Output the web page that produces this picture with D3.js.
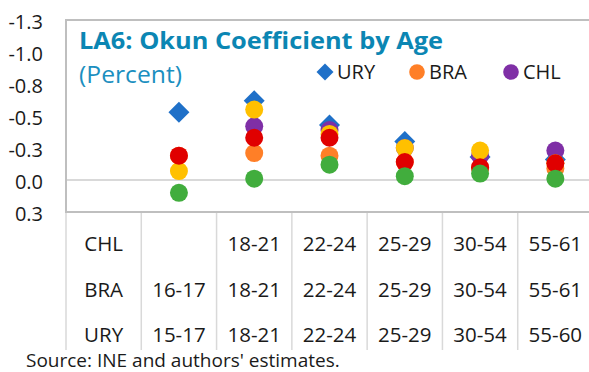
<!DOCTYPE html>
<html>
<head>
<meta charset="utf-8">
<script src="https://cdn.jsdelivr.net/npm/d3@7/dist/d3.min.js"></script>
<style>
  html, body { margin: 0; padding: 0; background: #fff; }
  svg { display: block; font-family: "Open Sans", "Noto Sans", sans-serif; }
</style>
</head>
<body>
<svg id="chart" width="589" height="372"></svg>
<script>
// Age groups per country (multi-level category axis)
const rowNames = ["CHL", "BRA", "URY"];
const chlAges = ["", "18-21", "22-24", "25-29", "30-54", "55-61"];
const braAges = ["16-17", "18-21", "22-24", "25-29", "30-54", "55-61"];
const uryAges = ["15-17", "18-21", "22-24", "25-29", "30-54", "55-60"];

// Okun coefficients (percent), one entry per age group
const uryValues = [-0.53, -0.62, -0.43, -0.30, -0.18, -0.16];
const braValues = [-0.19, -0.21, -0.19, -0.14, -0.09, -0.09];
const chlValues = [null, -0.42, -0.39, -0.25, -0.19, -0.23];
const s4Values  = [-0.07, -0.55, -0.36, -0.25, -0.23, -0.13];
const s5Values  = [-0.19, -0.33, -0.33, -0.14, -0.10, -0.13];
const s6Values  = [0.10, -0.01, -0.12, -0.03, -0.05, -0.01];

const yTicks = [-1.25, -1.0, -0.75, -0.5, -0.25, 0, 0.25];

const series = [
  { name: "URY", values: uryValues, color: "#1f70c8", shape: "diamond", legend: true },
  { name: "BRA", values: braValues, color: "#ff7f27", shape: "circle", legend: true },
  { name: "CHL", values: chlValues, color: "#7f2fa6", shape: "circle", legend: true },
  { name: "S4",  values: s4Values,  color: "#ffc000", shape: "circle", legend: false },
  { name: "S5",  values: s5Values,  color: "#e00000", shape: "circle", legend: false },
  { name: "S6",  values: s6Values,  color: "#41ad3d", shape: "circle", legend: false }
];

const svg = d3.select("#chart");
const plot = { left: 66, right: 593, top: 20, bottom: 212 };

// first band holds the row labels of the category table
const xKeys = ["rows"].concat(uryAges);
const x = d3.scaleBand().domain(xKeys).range([plot.left, plot.right]);
const y = d3.scaleLinear().domain([0.25, -1.25]).range([plot.bottom, plot.top]);

// zero line
svg.append("line")
  .attr("x1", plot.left).attr("x2", plot.right)
  .attr("y1", y(0)).attr("y2", y(0))
  .attr("stroke", "#d9d9d9").attr("stroke-width", 2);

// y axis labels
const yAxis = d3.axisLeft(y).tickValues(yTicks)
  .tickFormat(d => d.toFixed(1)).tickSize(0).tickPadding(0);
const yg = svg.append("g").attr("transform", `translate(${43},0)`).call(yAxis);
yg.select(".domain").remove();
yg.selectAll("text")
  .attr("font-family", "Open Sans, Noto Sans, sans-serif")
  .attr("font-size", 20).attr("fill", "#1a1a1a").attr("dy", "0.4em");

// category table: vertical separators
const bounds = xKeys.map(k => x(k)).concat([plot.right]);
svg.append("g").selectAll("line").data(bounds).join("line")
  .attr("x1", d => d).attr("x2", d => d)
  .attr("y1", plot.bottom).attr("y2", 350)
  .attr("stroke", "#d9d9d9").attr("stroke-width", 1.5);

const rowY = [244, 290, 335];
const rowLabels = [chlAges, braAges, uryAges];
rowNames.forEach((name, i) => {
  const cells = [name].concat(rowLabels[i]);
  svg.append("g").selectAll("text").data(cells).join("text")
    .attr("x", (d, j) => x(xKeys[j]) + x.bandwidth() / 2)
    .attr("y", rowY[i])
    .attr("dy", "0.36em")
    .attr("text-anchor", "middle")
    .attr("font-size", 20.5).attr("fill", "#1a1a1a")
    .text(d => d);
});

// plot frame
svg.append("rect")
  .attr("x", plot.left).attr("y", plot.top)
  .attr("width", plot.right - plot.left).attr("height", plot.bottom - plot.top)
  .attr("fill", "none").attr("stroke", "#bfbfbf").attr("stroke-width", 2);

// markers
const diamond = d3.symbol().type(d3.symbolSquare).size(220);
series.forEach(s => {
  const pts = s.values.map((v, i) => ({ v, k: uryAges[i] })).filter(p => p.v !== null);
  const g = svg.append("g");
  const cx = p => x(p.k) + x.bandwidth() / 2;
  if (s.shape === "diamond") {
    g.selectAll("path").data(pts).join("path")
      .attr("d", diamond)
      .attr("transform", p => `translate(${cx(p)},${y(p.v)}) rotate(45)`)
      .attr("fill", s.color);
  } else {
    g.selectAll("circle").data(pts).join("circle")
      .attr("cx", cx).attr("cy", p => y(p.v)).attr("r", 9)
      .attr("fill", s.color);
  }
});

// title
svg.append("text").attr("x", 79).attr("y", 48.5)
  .attr("font-size", 24).attr("font-weight", "bold").attr("fill", "#0b86b3")
  .attr("textLength", 364).attr("lengthAdjust", "spacingAndGlyphs")
  .text("LA6: Okun Coefficient by Age");
svg.append("text").attr("x", 79).attr("y", 83)
  .attr("font-size", 23).attr("fill", "#1b8fc0")
  .attr("textLength", 103).attr("lengthAdjust", "spacingAndGlyphs")
  .text("(Percent)");

// legend
const legendX = [325, 417, 511];
const legendY = 72;
const legendDiamond = d3.symbol().type(d3.symbolSquare).size(144);
series.filter(s => s.legend).forEach((s, i) => {
  if (s.shape === "diamond") {
    svg.append("path").attr("d", legendDiamond)
      .attr("transform", `translate(${legendX[i]},${legendY}) rotate(45)`)
      .attr("fill", s.color);
  } else {
    svg.append("circle").attr("cx", legendX[i]).attr("cy", legendY).attr("r", 7.8)
      .attr("fill", s.color);
  }
  svg.append("text").attr("x", legendX[i] + 12).attr("y", legendY).attr("dy", "0.36em")
    .attr("font-size", 20).attr("fill", "#1a1a1a").text(s.name);
});

// source note
svg.append("text").attr("x", 26).attr("y", 360).attr("dy", "0.36em")
  .attr("font-size", 19).attr("fill", "#1a1a1a")
  .text("Source: INE and authors' estimates.");
</script>
</body>
</html>
